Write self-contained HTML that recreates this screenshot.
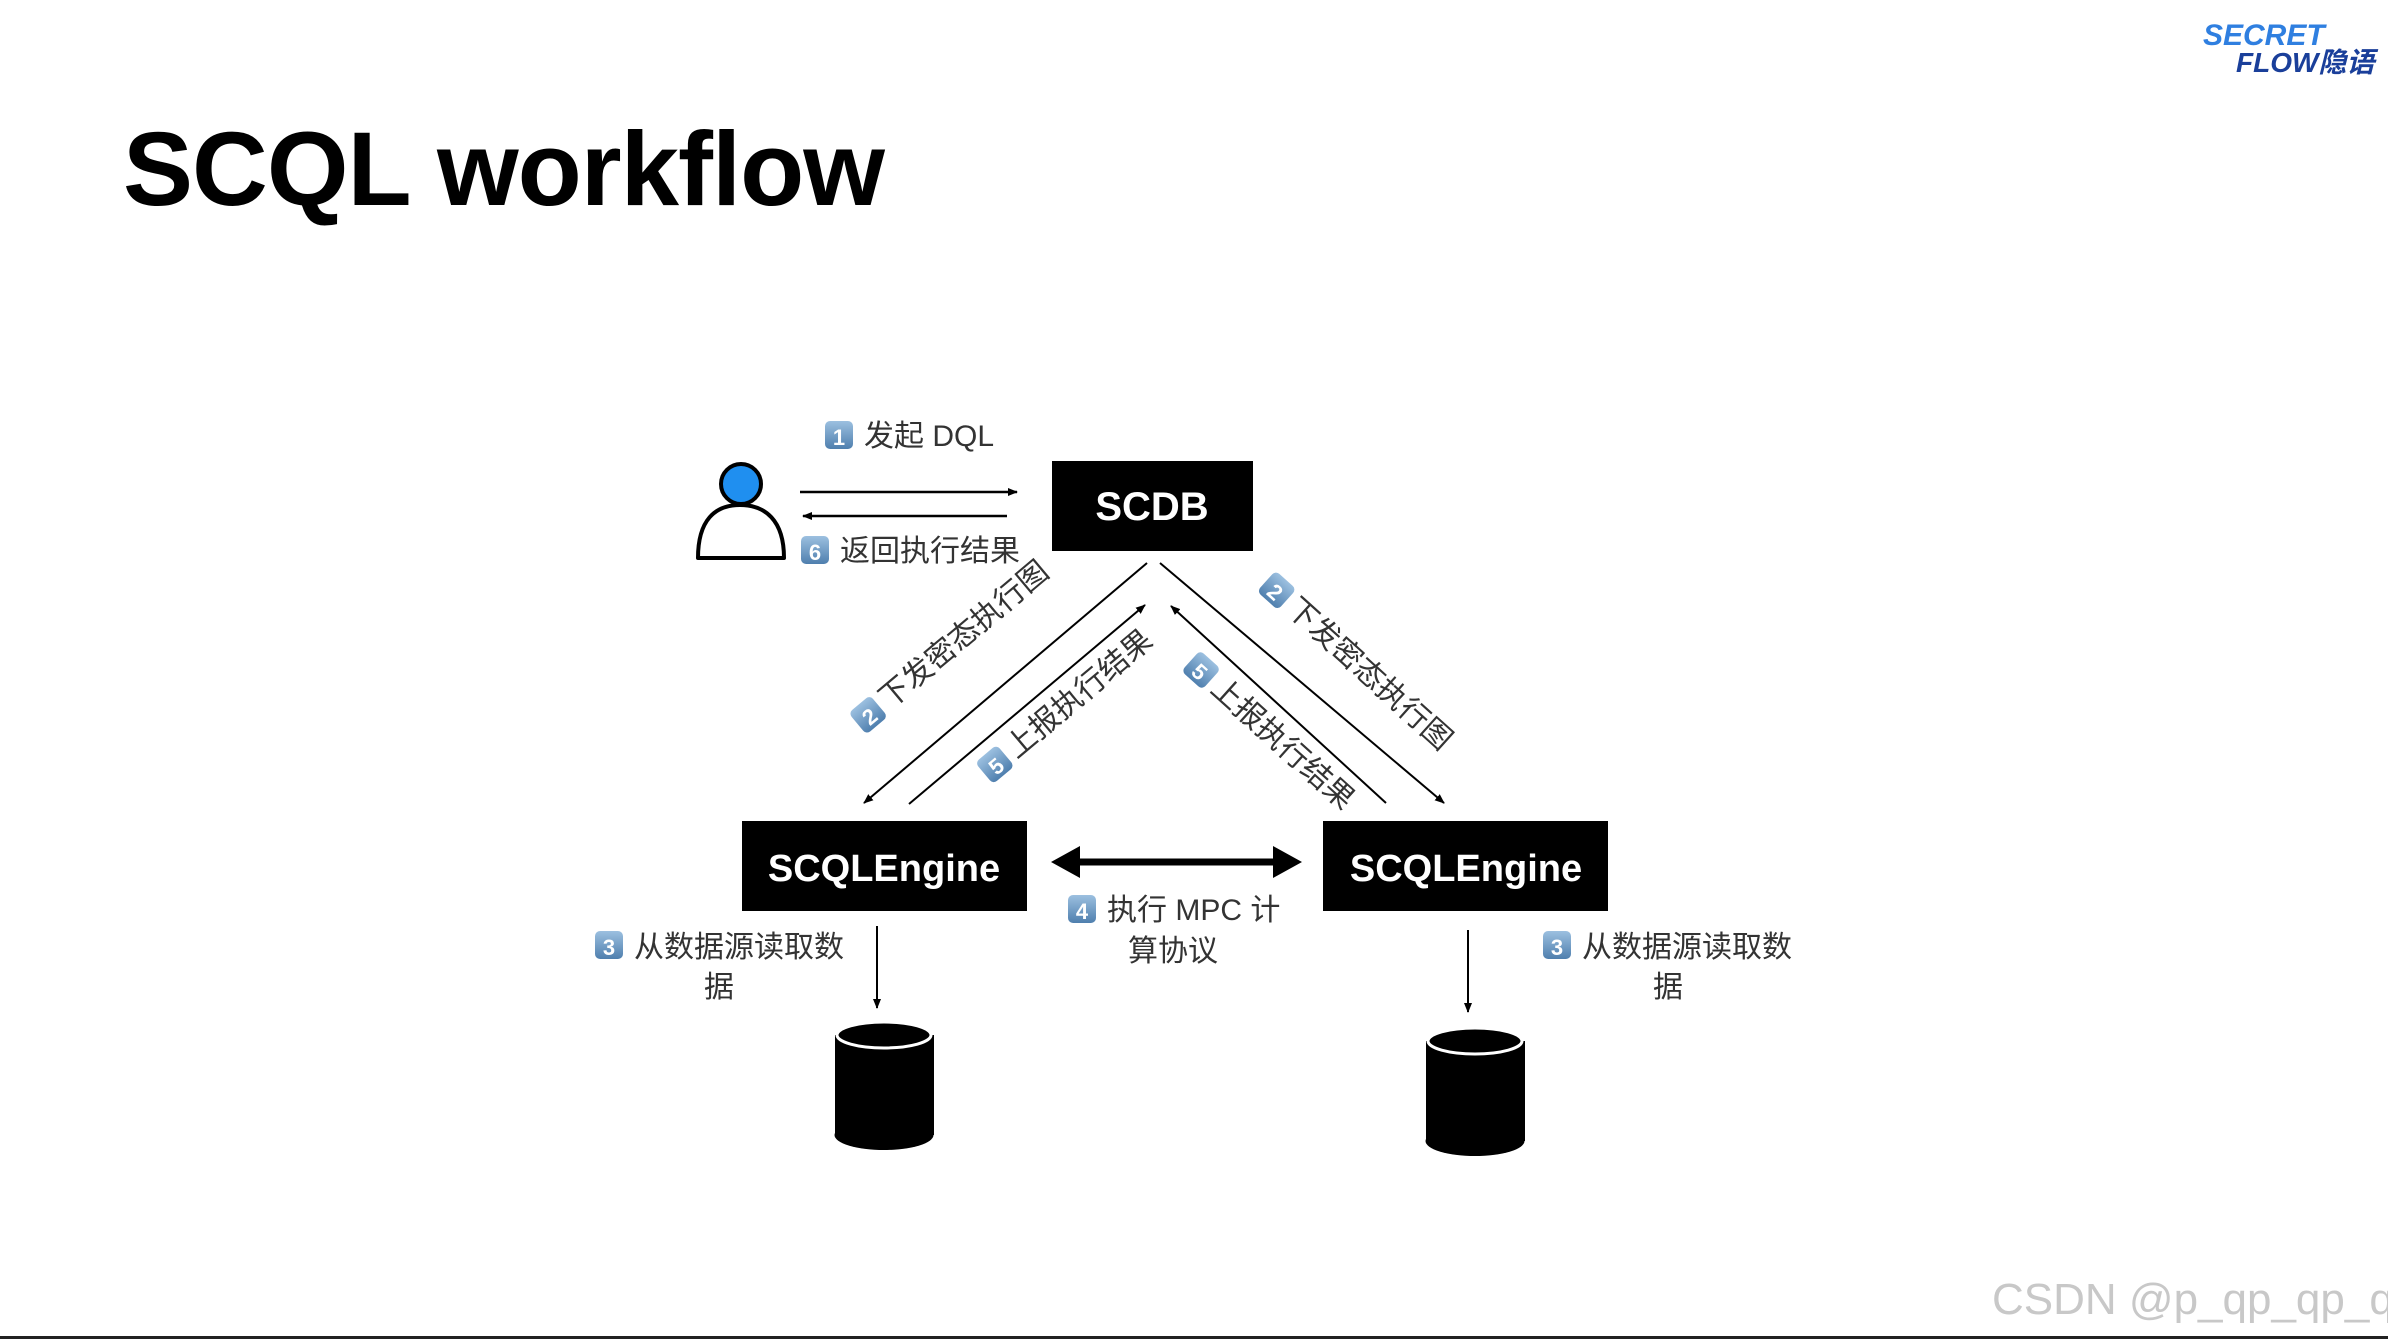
<!DOCTYPE html>
<html><head><meta charset="utf-8"><style>
html,body{margin:0;padding:0;background:#fff;}
body{width:2388px;height:1339px;position:relative;overflow:hidden;font-family:"Liberation Sans","Noto Sans CJK SC",sans-serif;}
svg{position:absolute;left:0;top:0;}
</style></head><body>
<svg width="2388" height="1339" viewBox="0 0 2388 1339" xmlns="http://www.w3.org/2000/svg">
<defs>
<marker id="ah" markerWidth="10" markerHeight="10" refX="9" refY="5" orient="auto" markerUnits="userSpaceOnUse"><path d="M0,1 L10,5 L0,9 Z" fill="#000"/></marker>
<linearGradient id="bg" x1="0" y1="0" x2="0" y2="1"><stop offset="0" stop-color="#9cc0e0"/><stop offset="1" stop-color="#4f7fae"/></linearGradient>
<g id="badge"><rect x="-14" y="-14" width="28" height="28" rx="5" fill="url(#bg)"/></g>
</defs>
<text x="123" y="205" font-family="Liberation Sans,sans-serif" font-weight="bold" font-size="105" fill="#000" letter-spacing="-1">SCQL workflow</text>
<text x="2203" y="45" font-family="Liberation Sans,sans-serif" font-style="italic" font-weight="bold" font-size="30" fill="#2f7fe0">SECRET</text>
<text x="2236" y="72" font-family="Liberation Sans,Noto Sans CJK SC,sans-serif" font-style="italic" font-weight="bold" font-size="28" fill="#1a3f9a">FLOW隐语</text>
<!-- boxes -->
<rect x="1052" y="461" width="201" height="90" fill="#000"/>
<text x="1152" y="520" text-anchor="middle" font-size="40" font-weight="bold" fill="#fff">SCDB</text>
<rect x="742" y="821" width="285" height="90" fill="#000"/>
<text x="884" y="881" text-anchor="middle" font-size="38" font-weight="bold" fill="#fff">SCQLEngine</text>
<rect x="1323" y="821" width="285" height="90" fill="#000"/>
<text x="1466" y="881" text-anchor="middle" font-size="38" font-weight="bold" fill="#fff">SCQLEngine</text>
<!-- person -->
<path d="M698,558 C698,520 715,505 740,505 C765,505 784,520 784,558 Z" fill="#fff" stroke="#000" stroke-width="4" stroke-linejoin="round"/>
<circle cx="741" cy="484" r="20" fill="#1f8ff0" stroke="#000" stroke-width="4"/>
<!-- user arrows -->
<line x1="800" y1="492" x2="1017" y2="492" stroke="#000" stroke-width="2.5" marker-end="url(#ah)"/>
<line x1="1007" y1="516" x2="803" y2="516" stroke="#000" stroke-width="2.5" marker-end="url(#ah)"/>
<!-- diagonals -->
<line x1="1147" y1="563" x2="864" y2="803" stroke="#000" stroke-width="2" marker-end="url(#ah)"/>
<line x1="909" y1="804" x2="1145" y2="605" stroke="#000" stroke-width="2" marker-end="url(#ah)"/>
<line x1="1160" y1="563" x2="1444" y2="803" stroke="#000" stroke-width="2" marker-end="url(#ah)"/>
<line x1="1386" y1="803" x2="1171" y2="606" stroke="#000" stroke-width="2" marker-end="url(#ah)"/>
<!-- MPC arrow -->
<line x1="1075" y1="862" x2="1278" y2="862" stroke="#000" stroke-width="7"/>
<path d="M1051,862 L1080,846 L1080,878 Z" fill="#000"/>
<path d="M1302,862 L1273,846 L1273,878 Z" fill="#000"/>
<!-- down arrows -->
<line x1="877" y1="926" x2="877" y2="1008" stroke="#000" stroke-width="2" marker-end="url(#ah)"/>
<line x1="1468" y1="930" x2="1468" y2="1012" stroke="#000" stroke-width="2" marker-end="url(#ah)"/>
<!-- cylinders -->
<g>
<rect x="835" y="1035" width="99" height="100" fill="#000"/>
<ellipse cx="884" cy="1135" rx="49.5" ry="15" fill="#000"/>
<ellipse cx="884" cy="1035" rx="47" ry="13" fill="#000" stroke="#fff" stroke-width="3"/>
</g>
<g>
<rect x="1426" y="1041" width="99" height="100" fill="#000"/>
<ellipse cx="1475" cy="1141" rx="49.5" ry="15" fill="#000"/>
<ellipse cx="1475" cy="1041" rx="47" ry="13" fill="#000" stroke="#fff" stroke-width="3"/>
</g>
<!-- labels -->
<g font-size="30" fill="#333" font-family="Liberation Sans,Noto Sans CJK SC,sans-serif">
<use href="#badge" x="839" y="435"/><text x="839" y="445" text-anchor="middle" fill="#fff" font-size="22" font-weight="bold">1</text>
<text x="864" y="446">发起 DQL</text>
<use href="#badge" x="815" y="550"/><text x="815" y="560" text-anchor="middle" fill="#fff" font-size="22" font-weight="bold">6</text>
<text x="840" y="561">返回执行结果</text>
<g transform="translate(955,655) rotate(-40)">
<use href="#badge" x="-105" y="-10"/><text x="-105" y="0" text-anchor="middle" fill="#fff" font-size="22" font-weight="bold">2</text>
<text x="-85" y="0">下发密态执行图</text></g>
<g transform="translate(1074,711) rotate(-40)">
<use href="#badge" x="-95" y="-10"/><text x="-95" y="0" text-anchor="middle" fill="#fff" font-size="22" font-weight="bold">5</text>
<text x="-75" y="0">上报执行结果</text></g>
<g transform="translate(1348,668) rotate(42)">
<use href="#badge" x="-105" y="-10"/><text x="-105" y="0" text-anchor="middle" fill="#fff" font-size="22" font-weight="bold">2</text>
<text x="-85" y="0">下发密态执行图</text></g>
<g transform="translate(1265,741) rotate(42)">
<use href="#badge" x="-95" y="-10"/><text x="-95" y="0" text-anchor="middle" fill="#fff" font-size="22" font-weight="bold">5</text>
<text x="-75" y="0">上报执行结果</text></g>
<use href="#badge" x="1082" y="909"/><text x="1082" y="919" text-anchor="middle" fill="#fff" font-size="22" font-weight="bold">4</text>
<text x="1107" y="920">执行 MPC 计</text>
<text x="1173" y="961" text-anchor="middle">算协议</text>
<use href="#badge" x="609" y="945"/><text x="609" y="955" text-anchor="middle" fill="#fff" font-size="22" font-weight="bold">3</text>
<text x="634" y="957">从数据源读取数</text>
<text x="719" y="997" text-anchor="middle">据</text>
<use href="#badge" x="1557" y="945"/><text x="1557" y="955" text-anchor="middle" fill="#fff" font-size="22" font-weight="bold">3</text>
<text x="1582" y="957">从数据源读取数</text>
<text x="1668" y="997" text-anchor="middle">据</text>
</g>
<text x="1992" y="1314" font-size="44" fill="#c8c8c8" font-family="Liberation Sans,sans-serif">CSDN @p_qp_qp_q</text>
<rect x="0" y="1336" width="2388" height="3" fill="#222"/>
</svg>
</body></html>
